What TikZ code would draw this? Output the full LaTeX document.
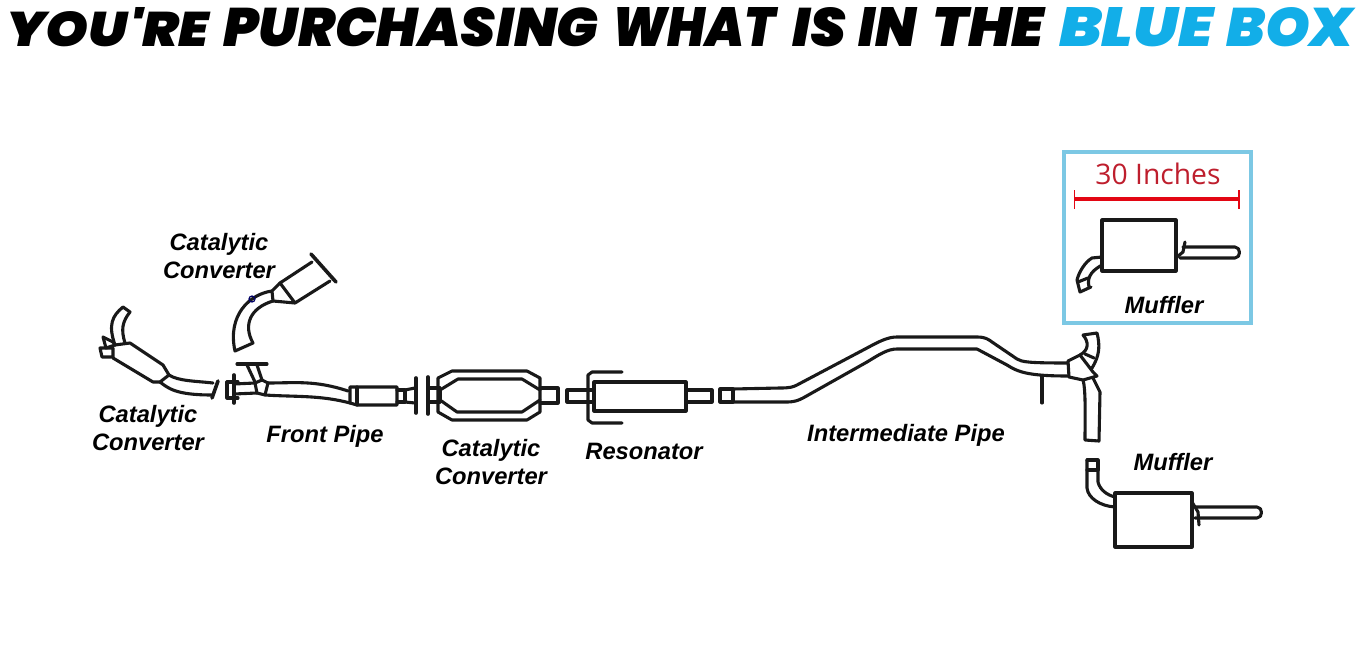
\documentclass[tikz,border=0pt]{standalone}
\usepackage{fontspec}
\usepackage{graphicx}
\setmainfont{Liberation Sans}
\newfontfamily\titlefont{Poppins Black Italic}
\newfontfamily\sizefont{Open Sans}
\definecolor{bluebox}{HTML}{7CC8E4}
\definecolor{titleblue}{HTML}{12AEE8}
\definecolor{sizered}{HTML}{BE1E2D}
\definecolor{barred}{HTML}{E30613}
\tikzset{
  pipeline/.style={line width=3.1pt, line join=round, line cap=round, black!90},
  flange/.style={line width=3.6pt, line cap=round, black!90},
  partlabel/.style={font=\fontsize{23.7}{28}\selectfont\bfseries\itshape, align=center, inner sep=0pt},
  titleword/.style={anchor=west, inner sep=0pt}
}
\begin{document}
\begin{tikzpicture}[x=1pt, y=-1pt]
  \useasboundingbox (0,0) rectangle (1361,661);
  % titel
  \foreach \word/\wordx/\wordw in {YOU'RE/6/203, PURCHASING/223/375, WHAT/612/163, IS/792/54, IN/858/58, THE/932/112}
    \node[titleword] (title\word) at (\wordx,27) {\resizebox{\wordw pt}{39pt}{\titlefont\word}};
  \node[titleword, text=titleblue] (titleblue) at (1059,27) {\resizebox{154pt}{39pt}{\titlefont BLUE}};
  \node[titleword, text=titleblue] (titlebox) at (1226,27) {\resizebox{127pt}{39pt}{\titlefont BOX}};
  % linker katalysator
  \draw[pipeline] (123,307) -- (130,312) .. controls (122,322) and (121,330) .. (125,343);
  \draw[pipeline] (123,307) .. controls (112,316) and (108,325) .. (115,345);
  \draw[pipeline] (103,337) -- (113,342) -- (115,345) -- (106,348) -- cycle;
  \draw[pipeline] (100,348) -- (113,348) -- (113,357) -- (102,357) -- cycle;
  \draw[pipeline] (115,345) -- (130,343) -- (163,365) -- (169,375) -- (160,382) -- (153,382) -- (113,358);
  \draw[pipeline] (169,375) .. controls (178,381) and (195,381) .. (213,383);
  \draw[pipeline] (160,382) .. controls (168,388) and (175,395) .. (212,395);
  \draw[flange] (218,381) -- (212,398);
  % oberer katalysator
  \draw[flange] (311,254) -- (336,282);
  \draw[pipeline] (312,262) -- (280,283) -- (295,303) -- (330,281);
  \draw[pipeline] (280,283) -- (272,291) -- (273,301) -- (295,303);
  \draw[pipeline] (272,291) .. controls (250,294) and (227,315) .. (235,351) -- (253,343) .. controls (243,325) and (250,308) .. (273,301);
  \draw[line width=1.2pt, black!60!blue] (252,299) circle (3);
  % vorderrohr
  \draw[flange] (234,375) -- (234,403);
  \draw[pipeline] (227,382) -- (227,398) -- (238,398);
  \draw[pipeline] (227,382) -- (238,382);
  \draw[pipeline] (234,384) -- (255,383);
  \draw[pipeline] (234,394) -- (257,393);
  \draw[pipeline] (237,364) -- (267,364);
  \draw[pipeline] (247,365) -- (255,382);
  \draw[pipeline] (257,365) -- (262,380);
  \draw[pipeline] (255,383) -- (262,380) -- (268,383) -- (265,395) -- (257,393) -- cycle;
  \draw[pipeline] (268,383) .. controls (295,383) and (315,380) .. (348,391);
  \draw[pipeline] (265,395) .. controls (295,397) and (320,395) .. (350,403);
  \draw[pipeline] (350,387) -- (350,403) -- (357,405) -- (397,405) -- (397,387) -- (357,387) -- (350,387);
  \draw[pipeline] (357,387) -- (357,405);
  \draw[pipeline] (397,390) -- (405,390) -- (405,402) -- (397,402);
  \draw[pipeline] (405,390) -- (415,388);
  \draw[pipeline] (405,402) -- (415,403);
  % flansche
  \draw[flange] (416,378) -- (416,413);
  \draw[flange] (428,377) -- (428,414);
  % mittlerer katalysator
  \draw[pipeline] (428,388) -- (440,388);
  \draw[pipeline] (428,402) -- (440,402);
  \draw[pipeline] (438,378) -- (452,371) -- (527,371) -- (540,378) -- (540,412) -- (527,420) -- (452,420) -- (438,412) -- cycle;
  \draw[pipeline] (440,390) -- (458,379) -- (522,379) -- (540,390);
  \draw[pipeline] (440,400) -- (457,412) -- (522,412) -- (540,400);
  \draw[pipeline] (440,390) -- (440,400);
  \draw[pipeline] (540,388) -- (558,388) -- (558,403) -- (540,403);
  % resonator
  \draw[pipeline] (593,390) -- (567,390) -- (567,402) -- (593,402);
  \draw[pipeline] (594,382) rectangle (686,411);
  \draw[pipeline] (686,390) -- (712,390) -- (712,402) -- (686,402);
  \draw[pipeline] (622,372) -- (592,372) -- (588,375) -- (588,420) -- (592,423) -- (622,423);
  % mittelrohr
  \draw[pipeline] (733,389) -- (720,389) -- (720,402) -- (733,402) -- cycle;
  \draw[pipeline] (733,389) -- (780,388) .. controls (790,388) and (793,387) .. (797,385) -- (867,348) .. controls (880,341) and (888,337) .. (897,337) -- (977,337) .. controls (985,337) and (988,339) .. (992,342) -- (1017,359) .. controls (1022,362) and (1028,363) .. (1068,363);
  \draw[pipeline] (733,402) -- (787,402) .. controls (795,402) and (799,400) .. (803,398) -- (867,362) .. controls (880,354) and (888,349) .. (897,349) -- (977,349) -- (1007,365) .. controls (1018,372) and (1028,376) .. (1068,376);
  \draw[pipeline] (1042,376) -- (1042,403);
  % t-stueck
  \draw[pipeline] (1068,361) -- (1080,355) -- (1093,372) -- (1097,376) -- (1083,380) -- (1069,377) -- cycle;
  \draw[pipeline] (1083,335) -- (1097,333) .. controls (1100,345) and (1100,355) .. (1092,368);
  \draw[pipeline] (1083,335) .. controls (1089,342) and (1089,350) .. (1080,355);
  \draw[pipeline] (1085,354) -- (1094,358);
  \draw[pipeline] (1083,380) .. controls (1086,390) and (1085,420) .. (1085,440) -- (1099,441) -- (1100,392) -- (1093,378);
  % unterer schalldaempfer
  \draw[pipeline] (1087,460) -- (1098,460) -- (1098,470) -- (1087,470);
  \draw[pipeline] (1087,460) -- (1087,488) .. controls (1088,498) and (1100,506) .. (1115,507);
  \draw[pipeline] (1098,470) -- (1098,482) .. controls (1100,490) and (1107,495) .. (1115,497);
  \draw[pipeline] (1115,493) rectangle (1192,547);
  \draw[pipeline] (1195,507) -- (1257,507) .. controls (1263,507) and (1263,518) .. (1257,518) -- (1195,518);
  \draw[pipeline] (1192,502) -- (1198,512) -- (1199,525);
  % blaue box
  \draw[bluebox, line width=4pt] (1064,152) rectangle (1251,323);
  \draw[barred, line width=4pt] (1074,199) -- (1239,199);
  \draw[barred, line width=1.4pt] (1074.5,190) -- (1074.5,209);
  \draw[barred, line width=1.4pt] (1239,190) -- (1239,209);
  \node[text=sizered, inner sep=0pt, font=\fontsize{28.3}{32}\selectfont\sizefont] (length) at (1158,174) {30 Inches};
  \draw[pipeline] (1102,220) rectangle (1176,271);
  \draw[pipeline] (1102,257) -- (1092,258) .. controls (1085,262) and (1079,272) .. (1077,280);
  \draw[pipeline] (1102,265) .. controls (1095,269) and (1086,275) .. (1089,287);
  \draw[pipeline] (1077,280) -- (1080,292) -- (1091,287);
  \draw[pipeline] (1078,282) -- (1088,278);
  \draw[pipeline] (1183,247) -- (1235,247) .. controls (1241,247) and (1241,258) .. (1235,258) -- (1180,258);
  \draw[pipeline] (1185,242) -- (1183,252) -- (1177,257);
  % beschriftung
  \node[partlabel] (upperconverter) at (219,256) {Catalytic\\Converter};
  \node[partlabel] (leftconverter) at (148,428) {Catalytic\\Converter};
  \node[partlabel] (frontpipe) at (325,436) {Front Pipe};
  \node[partlabel] (middleconverter) at (491,462) {Catalytic\\Converter};
  \node[partlabel] (resonator) at (644,451) {Resonator};
  \node[partlabel] (intermediatepipe) at (906,435) {Intermediate Pipe};
  \node[partlabel] (lowermuffler) at (1173,462) {Muffler};
  \node[partlabel] (uppermuffler) at (1164,305) {Muffler};
\end{tikzpicture}
\end{document}
